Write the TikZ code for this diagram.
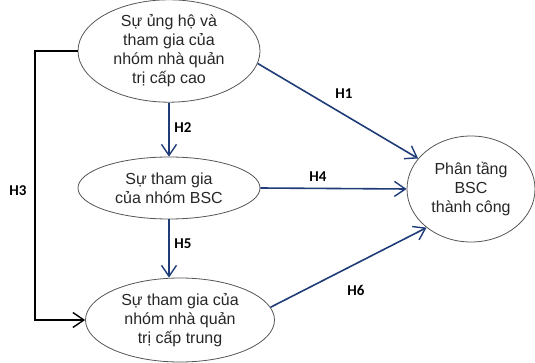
\documentclass[tikz,border=0pt]{standalone}
\usepackage{fontspec}
\setmainfont{Liberation Sans}
\newfontfamily\labfont{Carlito}
\usetikzlibrary{arrows.meta,shapes.geometric}
\definecolor{navy}{HTML}{1F3C78}
\definecolor{rim}{HTML}{555555}
\tikzset{
  bubble/.style={ellipse, draw=rim, line width=0.8pt, inner sep=0pt, align=center,
    font=\fontsize{16}{19}\selectfont, text=black!85},
  link/.style={draw=navy, line width=1.6pt, -{Straight Barb[length=11pt,width=15pt,line width=1.4pt]}},
  blink/.style={draw=black, line width=1.6pt, -{Straight Barb[length=11pt,width=15pt,line width=1.4pt]}},
  hlab/.style={font=\labfont\bfseries\fontsize{15}{15}\selectfont, inner sep=0pt}
}
\begin{document}
\begin{tikzpicture}[x=1pt,y=-1pt]
\useasboundingbox (0,0) rectangle (535,363);
\node[bubble, minimum width=182pt, minimum height=98pt] (A) at (169,51) {Sự ủng hộ và\\tham gia của\\nhóm nhà quản\\trị cấp cao};
\node[bubble, minimum width=182pt, minimum height=62pt] (B) at (169,188) {Sự tham gia\\của nhóm BSC};
\node[bubble, minimum width=189pt, minimum height=84pt] (C) at (180,320) {Sự tham gia của\\nhóm nhà quản\\trị cấp trung};
\node[bubble, minimum width=128pt, minimum height=106pt] (D) at (471,189) {Phân tầng\\BSC\\thành công};
\coordinate (h3) at (35,0);
\draw[link] (A.-8) -- (D.150);
\draw[link] (A.south) -- (B.north);
\draw[link] (B.east) -- (D.west);
\draw[link] (B.south) -- (B.south |- C.north);
\draw[link] (C.8) -- (D.221);
\draw[blink] (A.west) -- (A.west -| h3) |- (C.west);
\node[hlab] (l1) at (344,94) {H1};
\node[hlab] (l2) at (183,128) {H2};
\node[hlab] (l3) at (18,191) {H3};
\node[hlab] (l4) at (318,177) {H4};
\node[hlab] (l5) at (183,244) {H5};
\node[hlab] (l6) at (356,290) {H6};
\end{tikzpicture}
\end{document}
